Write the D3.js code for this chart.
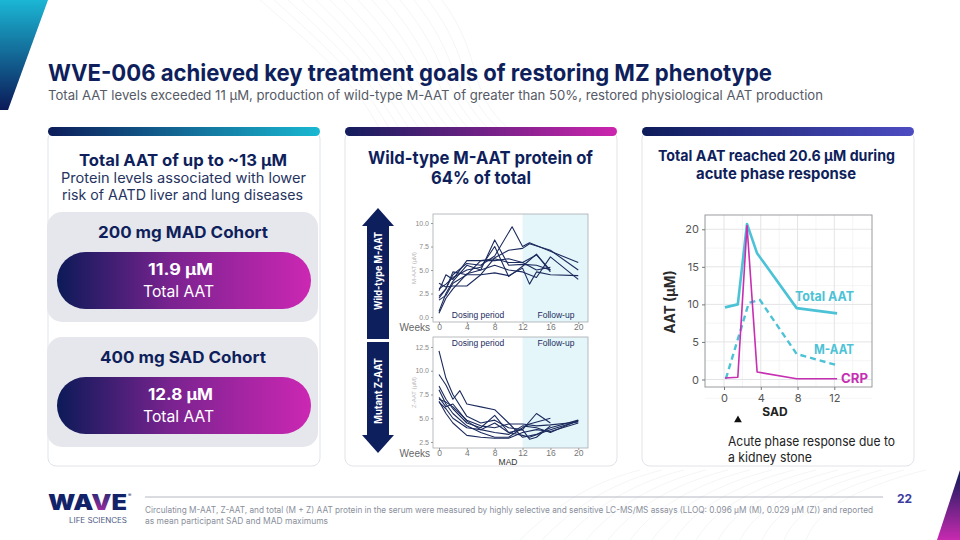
<!DOCTYPE html>
<html><head><meta charset="utf-8">
<script src="https://cdn.jsdelivr.net/npm/d3@7"></script>
<style>body{margin:0;background:#fff}svg{display:block}</style>
</head><body>
<svg id="c" width="960" height="540"></svg>
<script>
// ---------------- DATA ----------------
const titleText = "WVE-006 achieved key treatment goals of restoring MZ phenotype";
const subtitleText = "Total AAT levels exceeded 11 \u00b5M, production of wild-type M-AAT of greater than 50%, restored physiological AAT production";

const leftHead = ["Total AAT of up to ~13 \u00b5M"];
const leftBody = ["Protein levels associated with lower", "risk of AATD liver and lung diseases"];
const cohortNames = ["200 mg MAD Cohort", "400 mg SAD Cohort"];
const cohortValues = ["11.9 \u00b5M", "12.8 \u00b5M"];
const cohortUnits = ["Total AAT", "Total AAT"];

const midHead = ["Wild-type M-AAT protein of", "64% of total"];
const rightHead = ["Total AAT reached 20.6 \u00b5M during", "acute phase response"];
const rightNote = ["Acute phase response due to", "a kidney stone"];

// MAD cohort: participant M-AAT (uM) by week
const mWeeks = [0, 1, 2, 4, 6, 8, 10, 10.5, 12, 13, 14, 16, 20];
const mP1 = [2.0, 3.0, 4.5, 5.7, 5.5, 6.5, null, 9.6, 7.5, 7.9, null, 7.0, 5.8];
const mP2 = [0.4, 2.0, 3.0, 4.6, 5.0, 8.2, 5.5, null, 5.6, null, 5.5, 5.0, null];
const mP3 = [3.6, 3.2, 3.3, 3.3, 4.5, 6.3, 7.1, null, 7.3, 7.8, null, 7.1, 5.0];
const mP4 = [2.8, 4.5, 4.0, 6.0, 6.0, 6.2, 5.8, null, 5.8, null, 6.6, 5.0, null];
const mP5 = [1.8, 2.3, 3.6, 4.5, 4.5, 4.7, 4.4, null, 5.2, 3.5, 4.8, 4.5, 4.4];
const mP6 = [3.0, 3.5, 4.2, 5.0, 5.3, 7.5, 4.3, null, 5.4, null, 6.7, 4.8, null];
const mP7 = [0.6, 2.5, 3.8, 5.5, 5.0, 5.5, 5.0, null, 4.8, null, 4.2, 6.4, 4.0];
const mP8 = [2.2, 3.0, 4.8, 4.5, 6.0, 6.0, 6.2, null, 5.8, null, 5.0, 5.3, null];

// MAD cohort: participant Z-AAT (uM) by week
const zWeeks = [0, 1, 2, 3, 4, 6, 8, 10, 12, 13, 14, 16, 20];
const zP1 = [12.1, 9.2, 7.5, null, 5.2, 4.5, 4.8, 4.0, 3.8, null, 5.5, 4.5, null];
const zP2 = [9.6, 8.5, 7.0, 7.9, 6.5, 6.2, 5.9, 4.5, 3.0, null, 3.3, 4.0, 4.8];
const zP3 = [8.4, 7.0, 6.0, null, 4.5, 4.0, 5.3, 3.5, 3.2, 3.0, null, 3.8, 4.7];
const zP4 = [8.0, 6.5, 5.5, null, 4.2, 3.5, 3.0, 3.0, 4.0, 4.4, null, 5.0, null];
const zP5 = [7.0, 6.7, 6.2, null, 4.8, 4.2, 4.0, 4.4, 4.4, null, 4.2, 4.3, 4.6];
const zP6 = [6.8, 5.5, 4.5, null, 3.2, 3.0, 2.9, 2.9, 3.5, null, 3.8, 3.6, 4.5];
const zP7 = [6.7, 6.0, 5.0, null, 4.0, 3.8, 4.5, 3.5, 3.8, 2.8, 3.0, 4.2, null];
const zP8 = [7.2, 6.2, 6.5, null, 4.7, 3.8, 3.5, 3.3, 4.2, null, 4.0, 3.5, 4.8];

const madXTicks = [0, 4, 8, 12, 16, 20];
const mYTicks = [0, 2.5, 5, 7.5, 10];
const zYTicks = [2.5, 5, 7.5, 10, 12.5];

// SAD participant with acute phase response
const sadTotalWeeks = [0.1, 1.5, 2.5, 3.6, 7.9, 12.3];
const sadTotal = [9.6, 10.0, 20.7, 16.8, 9.5, 8.8];
const sadMWeeks = [0.2, 2.7, 3.9, 7.9, 12.3];
const sadM = [0.1, 10.2, 10.6, 3.4, 1.9];
const sadCrpWeeks = [0.1, 1.5, 2.5, 3.6, 7.9, 12.3];
const sadCrp = [0.2, 0.3, 20.5, 1.0, 0.1, 0.1];
const sadXTicks = [0, 4, 8, 12];
const sadYTicks = [0, 5, 10, 15, 20];
const sadEventWeek = [1.3];

const footnote = ["Circulating M-AAT, Z-AAT, and total (M + Z) AAT protein in the serum were measured by highly selective and sensitive LC-MS/MS assays (LLOQ: 0.096 \u00b5M (M), 0.029 \u00b5M (Z)) and reported",
  "as mean participant SAD and MAD maximums"];
const pageNumber = "22";

// ---------------- DRAW ----------------
const NAVY = "#0f1f5c", CYAN = "#4cc2d6", MAG = "#c62fb2";
const FONT = "Inter, Roboto, 'Noto Sans', sans-serif";
const CHARTFONT = "'Liberation Sans', Arial, sans-serif";
const svg = d3.select("#c");
const defs = svg.append("defs");

function lin(id, stops, x2 = "100%", y2 = "0%") {
  const g = defs.append("linearGradient").attr("id", id).attr("x1", "0%").attr("y1", "0%").attr("x2", x2).attr("y2", y2);
  stops.forEach(([o, c]) => g.append("stop").attr("offset", o).attr("stop-color", c));
}
lin("gCyan", [["0%", "#0d1d5a"], ["100%", "#19b8d2"]]);
lin("gMag", [["0%", "#131d5c"], ["100%", "#cc25ae"]]);
lin("gInd", [["0%", "#0e1c5a"], ["100%", "#4d4cc2"]]);
lin("gPill", [["0%", "#0c1a58"], ["45%", "#7a2390"], ["100%", "#cc27b3"]]);
lin("gTL", [["0%", "#1bb6d4"], ["100%", "#0b1a58"]], "0%", "100%");
lin("gBR", [["0%", "#0b1a58"], ["100%", "#c72ab0"]], "0%", "100%");
lin("gLogo", [["0%", "#1a2a6c"], ["100%", "#b82cae"]], "0%", "100%");

// set text to the measured width of the reference while keeping its height
function fit(sel, w) {
  sel.attr("textLength", w).attr("lengthAdjust", "spacingAndGlyphs");
  return sel;
}
function txt(g, x, y, s, o = {}) {
  return g.append("text").attr("x", x).attr("y", y).text(s)
    .attr("font-family", o.ff || FONT).attr("font-size", o.fs || 14)
    .attr("font-weight", o.fw || 400).attr("fill", o.fill || NAVY)
    .attr("text-anchor", o.anchor || "start");
}

// faint background curves
const bg = svg.append("g").attr("fill", "none").attr("stroke", "#eceef2").attr("stroke-width", 0.6);
d3.range(14).forEach(i => {
  const p = d3.path();
  p.moveTo(260 + i * 14, 0); p.bezierCurveTo(330 + i * 12, 60, 360 + i * 8, 90, 380 + i * 10, 130);
  bg.append("path").attr("d", p.toString());
  const q = d3.path();
  q.moveTo(520 + i * 22, 540); q.bezierCurveTo(560 + i * 20, 500, 600 + i * 22, 480, 640 + i * 22, 470);
  bg.append("path").attr("d", q.toString());
});

// corner decorations
svg.append("path").attr("d", "M0,0 L48,0 L8,110 L0,110 Z").attr("fill", "url(#gTL)");
svg.append("path").attr("d", "M960,470 L937,540 L960,540 Z").attr("fill", "url(#gBR)");

// titles
fit(txt(svg, 48, 81, titleText, { fs: 23.5, fw: 700 }), 724);
fit(txt(svg, 48, 100, subtitleText, { fs: 13.5, fill: "#555a66" }), 775);

// cards
const cards = [
  { x: 48, w: 272, grad: "gCyan" },
  { x: 345, w: 272, grad: "gMag" },
  { x: 642, w: 272, grad: "gInd" }
];
cards.forEach(c => {
  svg.append("rect").attr("x", c.x).attr("y", 131).attr("width", c.w).attr("height", 335)
    .attr("rx", 8).attr("fill", "#fff").attr("stroke", "#e2e3e9");
  svg.append("rect").attr("x", c.x).attr("y", 127).attr("width", c.w).attr("height", 9)
    .attr("rx", 4.5).attr("fill", `url(#${c.grad})`);
});

// ---- left card
fit(txt(svg, 79, 166, leftHead[0], { fs: 16.5, fw: 700 }), 208);
fit(txt(svg, 61, 183, leftBody[0], { fs: 14, fill: "#26335f" }), 245);
fit(txt(svg, 62, 200, leftBody[1], { fs: 14, fill: "#26335f" }), 241);

const boxY = [212, 337];
const nameX = [[98, 170], [100, 166]];
boxY.forEach((by, i) => {
  svg.append("rect").attr("x", 47).attr("y", by).attr("width", 271).attr("height", 110).attr("rx", 15).attr("fill", "#e6e7ec");
  fit(txt(svg, nameX[i][0], by + 26, cohortNames[i], { fs: 16, fw: 700 }), nameX[i][1]);
  svg.append("rect").attr("x", 57).attr("y", by + 40).attr("width", 254).attr("height", 57).attr("rx", 28.5).attr("fill", "url(#gPill)");
  fit(txt(svg, 148, by + 63, cohortValues[i], { fs: 15.5, fw: 700, fill: "#fff" }), 65);
  fit(txt(svg, 143, by + 85, cohortUnits[i], { fs: 16, fill: "#fff" }), 71);
});

// ---- middle card
fit(txt(svg, 368, 164, midHead[0], { fs: 18, fw: 700 }), 225);
fit(txt(svg, 431, 184, midHead[1], { fs: 18, fw: 700 }), 100);

// arrows
function arrowUp(x0, x1, yTip, yHead, yEnd, s0, s1) {
  return `M${(x0 + x1) / 2},${yTip} L${x1},${yHead} L${s1},${yHead} L${s1},${yEnd} L${s0},${yEnd} L${s0},${yHead} L${x0},${yHead} Z`;
}
svg.append("path").attr("d", arrowUp(362, 394, 208, 226, 339, 367, 389)).attr("fill", "#0e1f5e");
svg.append("path").attr("d", arrowUp(362, 394, 453, 435, 342, 367, 389)).attr("fill", "#0e1f5e");
fit(txt(svg, 0, 0, "Wild-type M-AAT", { fs: 11, fw: 700, fill: "#fff", anchor: "middle" })
  .attr("transform", "translate(382,271) rotate(-90)"), 78);
fit(txt(svg, 0, 0, "Mutant Z-AAT", { fs: 11, fw: 700, fill: "#fff", anchor: "middle" })
  .attr("transform", "translate(382,391) rotate(-90)"), 66);

function madPanel(cfg) {
  const g = svg.append("g");
  const x = d3.scaleLinear().domain([-0.86, 21.4]).range([433, 588]);
  const y = d3.scaleLinear().domain(cfg.ydom).range([cfg.bottom, cfg.top]);
  g.append("rect").attr("x", 433).attr("y", cfg.top).attr("width", 155).attr("height", cfg.bottom - cfg.top).attr("fill", "#fff");
  g.append("rect").attr("x", x(12)).attr("y", cfg.top).attr("width", 588 - x(12)).attr("height", cfg.bottom - cfg.top).attr("fill", "#e4f6f9");
  const line = d3.line().x(d => x(d[0])).y(d => y(d[1]));
  cfg.series.forEach(vals => {
    const pts = cfg.weeks.map((w, i) => [w, vals[i]]).filter(d => d[1] != null);
    g.append("path").attr("d", line(pts)).attr("fill", "none").attr("stroke", "#1c2b5e").attr("stroke-width", 1.1).attr("stroke-linejoin", "round");
  });
  g.append("rect").attr("x", 433).attr("y", cfg.top).attr("width", 155).attr("height", cfg.bottom - cfg.top).attr("fill", "none").attr("stroke", "#a9abb0").attr("stroke-width", 0.8);
  const ya = g.append("g").attr("transform", "translate(433,0)")
    .call(d3.axisLeft(y).tickValues(cfg.yticks).tickFormat(d3.format(".1f")).tickSize(2).tickPadding(2));
  ya.select(".domain").remove();
  ya.selectAll("line").attr("stroke", "#999");
  ya.selectAll("text").attr("font-family", CHARTFONT).attr("font-size", 7).attr("fill", "#8a8a8a");
  const xa = g.append("g").attr("transform", `translate(0,${cfg.bottom})`)
    .call(d3.axisBottom(x).tickValues(madXTicks).tickSize(2).tickPadding(0));
  xa.select(".domain").remove();
  xa.selectAll("line").attr("stroke", "#999");
  xa.selectAll("text").attr("font-family", CHARTFONT).attr("font-size", 8.5).attr("fill", "#777");
  txt(g, 430, cfg.bottom + 9, "Weeks", { ff: CHARTFONT, fs: 10, fill: "#666", anchor: "end" });
  txt(g, 0, 0, cfg.ylab, { ff: CHARTFONT, fs: 6, fill: "#b5b5b5", anchor: "middle" })
    .attr("transform", `translate(416,${(cfg.top + cfg.bottom) / 2}) rotate(-90)`);
  txt(g, 478, cfg.labY, "Dosing period", { ff: CHARTFONT, fs: 8.5, fill: "#1c2b5e", anchor: "middle" });
  txt(g, 556, cfg.labY, "Follow-up", { ff: CHARTFONT, fs: 8.5, fill: "#1c2b5e", anchor: "middle" });
  return g;
}
madPanel({ top: 214, bottom: 322, ydom: [-0.53, 10.96], yticks: mYTicks, weeks: mWeeks,
  series: [mP1, mP2, mP3, mP4, mP5, mP6, mP7, mP8], ylab: "M-AAT (\u00b5M)", labY: 318 });
madPanel({ top: 337, bottom: 448, ydom: [1.87, 13.55], yticks: zYTicks, weeks: zWeeks,
  series: [zP1, zP2, zP3, zP4, zP5, zP6, zP7, zP8], ylab: "Z-AAT (\u00b5M)", labY: 346 });
txt(svg, 508, 464.5, "MAD", { ff: CHARTFONT, fs: 8.5, fill: "#333", anchor: "middle" });

// ---- right card
fit(txt(svg, 658, 161, rightHead[0], { fs: 15, fw: 700 }), 237);
fit(txt(svg, 696, 179, rightHead[1], { fs: 15, fw: 700 }), 160);

const rx = d3.scaleLinear().domain([-2.07, 16.1]).range([705, 872]);
const ry = d3.scaleLinear().domain([-1.0, 21.9]).range([387, 215]);
const rg = svg.append("g");
rg.append("rect").attr("x", 705).attr("y", 215).attr("width", 167).attr("height", 172).attr("fill", "#fff");
rg.append("g").selectAll("line").data([-2, 2, 6, 10, 14]).join("line")
  .attr("x1", d => rx(d)).attr("x2", d => rx(d)).attr("y1", 215).attr("y2", 387).attr("stroke", "#f1f1f3").attr("stroke-width", 0.7);
rg.append("g").selectAll("line").data([-2.5, 2.5, 7.5, 12.5, 17.5]).join("line")
  .attr("y1", d => ry(d)).attr("y2", d => ry(d)).attr("x1", 705).attr("x2", 872).attr("stroke", "#f1f1f3").attr("stroke-width", 0.7);
rg.append("g").selectAll("line").data(sadXTicks).join("line")
  .attr("x1", d => rx(d)).attr("x2", d => rx(d)).attr("y1", 215).attr("y2", 387).attr("stroke", "#e4e4e8").attr("stroke-width", 1);
rg.append("g").selectAll("line").data(sadYTicks).join("line")
  .attr("y1", d => ry(d)).attr("y2", d => ry(d)).attr("x1", 705).attr("x2", 872).attr("stroke", "#e4e4e8").attr("stroke-width", 1);
const rline = d3.line().x(d => rx(d[0])).y(d => ry(d[1]));
rg.append("path").attr("d", rline(sadMWeeks.map((w, i) => [w, sadM[i]])))
  .attr("fill", "none").attr("stroke", CYAN).attr("stroke-width", 2.4).attr("stroke-dasharray", "6,4");
rg.append("path").attr("d", rline(sadTotalWeeks.map((w, i) => [w, sadTotal[i]])))
  .attr("fill", "none").attr("stroke", CYAN).attr("stroke-width", 2.6).attr("stroke-linejoin", "round");
rg.append("path").attr("d", rline(sadCrpWeeks.map((w, i) => [w, sadCrp[i]])))
  .attr("fill", "none").attr("stroke", MAG).attr("stroke-width", 1.6).attr("stroke-linejoin", "round");
rg.append("rect").attr("x", 705).attr("y", 215).attr("width", 167).attr("height", 172).attr("fill", "none").attr("stroke", "#8f9095").attr("stroke-width", 0.9);
const rya = rg.append("g").attr("transform", "translate(705,0)").call(d3.axisLeft(ry).tickValues(sadYTicks).tickSize(3).tickPadding(3));
rya.select(".domain").remove();
rya.selectAll("line").attr("stroke", "#777");
rya.selectAll("text").attr("font-family", FONT).attr("font-size", 11).attr("fill", "#555");
const rxa = rg.append("g").attr("transform", "translate(0,387)").call(d3.axisBottom(rx).tickValues(sadXTicks).tickSize(3).tickPadding(4));
rxa.select(".domain").remove();
rxa.selectAll("line").attr("stroke", "#777");
rxa.selectAll("text").attr("font-family", FONT).attr("font-size", 11).attr("fill", "#555");
fit(txt(rg, 0, 0, "AAT (\u00b5M)", { fs: 14.5, fw: 700, fill: "#2a2a2a", anchor: "middle" })
  .attr("transform", "translate(675,302) rotate(-90)"), 63);
txt(rg, 775, 416, "SAD", { fs: 12, fw: 700, fill: "#222", anchor: "middle" });
rg.selectAll(".tri").data(sadEventWeek).join("path").attr("class", "tri")
  .attr("d", d3.symbol(d3.symbolTriangle, 26)).attr("transform", d => `translate(${rx(d) + 2},420)`).attr("fill", "#111");
fit(txt(rg, 795, 301, "Total AAT", { fs: 13, fw: 700, fill: CYAN }), 59);
fit(txt(rg, 814, 354, "M-AAT", { fs: 13, fw: 700, fill: CYAN }), 40);
fit(txt(rg, 841, 383, "CRP", { fs: 13, fw: 700, fill: MAG }), 27);
fit(txt(svg, 728, 446, rightNote[0], { fs: 13, fill: "#222" }), 167);
fit(txt(svg, 728, 462, rightNote[1], { fs: 13, fill: "#222" }), 84);

// ---- footer
svg.append("line").attr("x1", 145).attr("x2", 883).attr("y1", 497).attr("y2", 497).attr("stroke", "#b4b8c4").attr("stroke-width", 1);
txt(svg, 912, 503, pageNumber, { fs: 12, fw: 700, fill: "#3b3b9e", anchor: "end" });
fit(txt(svg, 145, 513, footnote[0], { fs: 8.4, fill: "#8a8f9c" }), 728);
fit(txt(svg, 145, 524, footnote[1], { fs: 8.4, fill: "#8a8f9c" }), 183);

const logo = svg.append("text").attr("x", 48).attr("y", 510).attr("font-family", FONT).attr("font-weight", 900)
  .attr("font-size", 21).attr("textLength", 79).attr("lengthAdjust", "spacingAndGlyphs").attr("fill", "#13236a");
logo.append("tspan").text("WA");
logo.append("tspan").attr("fill", "url(#gLogo)").text("V");
logo.append("tspan").text("E");
txt(svg, 128, 497, "\u00ae", { fs: 5, fill: "#13236a" });
fit(txt(svg, 69, 523, "LIFE SCIENCES", { fs: 7, fill: "#4a587e" }), 58);
</script>
</body></html>
